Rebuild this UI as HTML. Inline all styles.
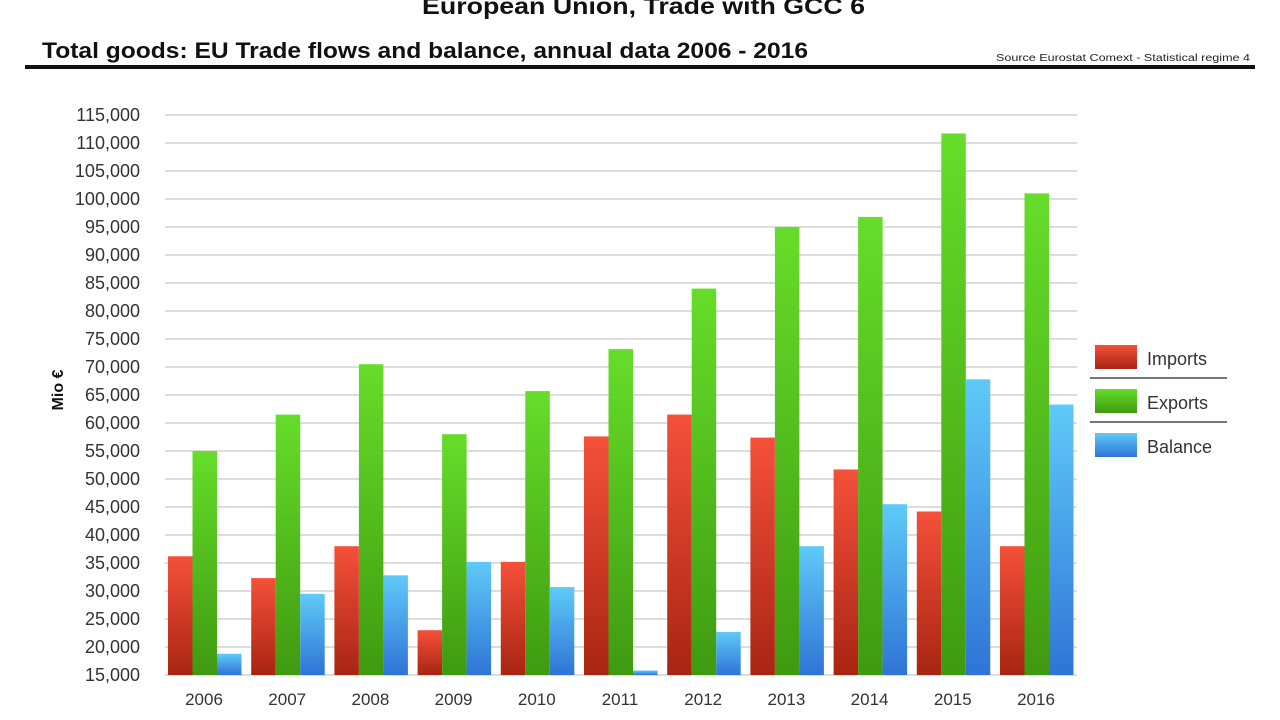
<!DOCTYPE html>
<html><head><meta charset="utf-8"><style>
body{margin:0;background:#fff;font-family:"Liberation Sans",sans-serif;}
#wrap{position:relative;width:1280px;height:720px;overflow:hidden;}
</style></head><body>
<div id="wrap">
<svg id="chart" width="1280" height="720">
<defs>
<linearGradient id="gr" x1="0" y1="0" x2="0" y2="1"><stop offset="0" stop-color="#f5503a"/><stop offset="1" stop-color="#a82512"/></linearGradient>
<linearGradient id="gg" x1="0" y1="0" x2="0" y2="1"><stop offset="0" stop-color="#66dd2a"/><stop offset="1" stop-color="#3f9a10"/></linearGradient>
<linearGradient id="gb" x1="0" y1="0" x2="0" y2="1"><stop offset="0" stop-color="#5fcaf8"/><stop offset="1" stop-color="#2f74d6"/></linearGradient>
</defs>
<text x="422" y="14" textLength="443" lengthAdjust="spacingAndGlyphs" font-size="23" font-weight="bold" fill="#111">European Union, Trade with GCC 6</text>
<text x="42" y="58" textLength="766" lengthAdjust="spacingAndGlyphs" font-size="22" font-weight="bold" fill="#111">Total goods: EU Trade flows and balance, annual data 2006 - 2016</text>
<text x="996" y="61" textLength="254" lengthAdjust="spacingAndGlyphs" font-size="10" fill="#222">Source Eurostat Comext  - Statistical regime 4</text>
<rect x="25" y="65" width="1230" height="4" fill="#111"/>
<text transform="translate(63,390) rotate(-90)" text-anchor="middle" font-size="16" font-weight="bold" fill="#111">Mio €</text>
<g id="grid"></g><g id="bars"></g><g id="xl"></g>
<g>
<g><rect x="1095" y="345" width="42" height="24" fill="url(#gr)"/><text x="1147" y="365" font-size="18" fill="#333">Imports</text></g>
<rect x="1090" y="377" width="137" height="2" fill="#777"/>
<g><rect x="1095" y="389" width="42" height="24" fill="url(#gg)"/><text x="1147" y="409" font-size="18" fill="#333">Exports</text></g>
<rect x="1090" y="421" width="137" height="2" fill="#777"/>
<g><rect x="1095" y="433" width="42" height="24" fill="url(#gb)"/><text x="1147" y="453" font-size="18" fill="#333">Balance</text></g>
</g>
</svg>
</div>
<script>
const years=["2006","2007","2008","2009","2010","2011","2012","2013","2014","2015","2016"];
const imports=[36.2,32.3,38,23,35.2,57.6,61.5,57.4,51.7,44.2,38];
const exports_=[55,61.5,70.5,58,65.7,73.2,84,95,96.8,111.7,101];
const balance=[18.8,29.5,32.8,35.2,30.7,15.8,22.7,38,45.5,67.8,63.3];
const yTicks=[15,20,25,30,35,40,45,50,55,60,65,70,75,80,85,90,95,100,105,110,115];
const NS="http://www.w3.org/2000/svg";
const y0=675,y1=115,vmin=15,vmax=115;
function y(v){return y0-(v-vmin)/(vmax-vmin)*(y0-y1);}
function gx(i){return 168+i*83.2;}
const grid=document.getElementById('grid');
yTicks.forEach(t=>{
 const l=document.createElementNS(NS,'line');
 l.setAttribute('x1',165);l.setAttribute('x2',1077);l.setAttribute('y1',y(t));l.setAttribute('y2',y(t));
 l.setAttribute('stroke','#ddd');l.setAttribute('stroke-width','2');
 
 
 grid.appendChild(l);
 const tx=document.createElementNS(NS,'text');
 tx.setAttribute('x',140);tx.setAttribute('y',y(t)+6);tx.setAttribute('text-anchor','end');
 tx.setAttribute('font-size','18');tx.setAttribute('fill','#333');
 tx.textContent=(t*1000).toLocaleString('en-US');
 
 
 grid.appendChild(tx);
});
const bars=document.getElementById('bars'),xl=document.getElementById('xl');
const series=[[imports,'url(#gr)','imports'],[exports_,'url(#gg)','exports'],[balance,'url(#gb)','balance']];
years.forEach((yr,i)=>{
 series.forEach((s,k)=>{
  const r=document.createElementNS(NS,'rect');
  const v=s[0][i];
  r.setAttribute('x',gx(i)+k*24.5);r.setAttribute('width',24.5);
  r.setAttribute('y',y(v));r.setAttribute('height',y0-y(v));r.setAttribute('fill',s[1]);
  
  
  bars.appendChild(r);
 });
 const t=document.createElementNS(NS,'text');
 t.setAttribute('x',gx(i)+36);t.setAttribute('y',705);t.setAttribute('text-anchor','middle');
 t.setAttribute('font-size','17');t.setAttribute('fill','#333');t.textContent=yr;
 
 
 xl.appendChild(t);
});
</script>
</body></html>
